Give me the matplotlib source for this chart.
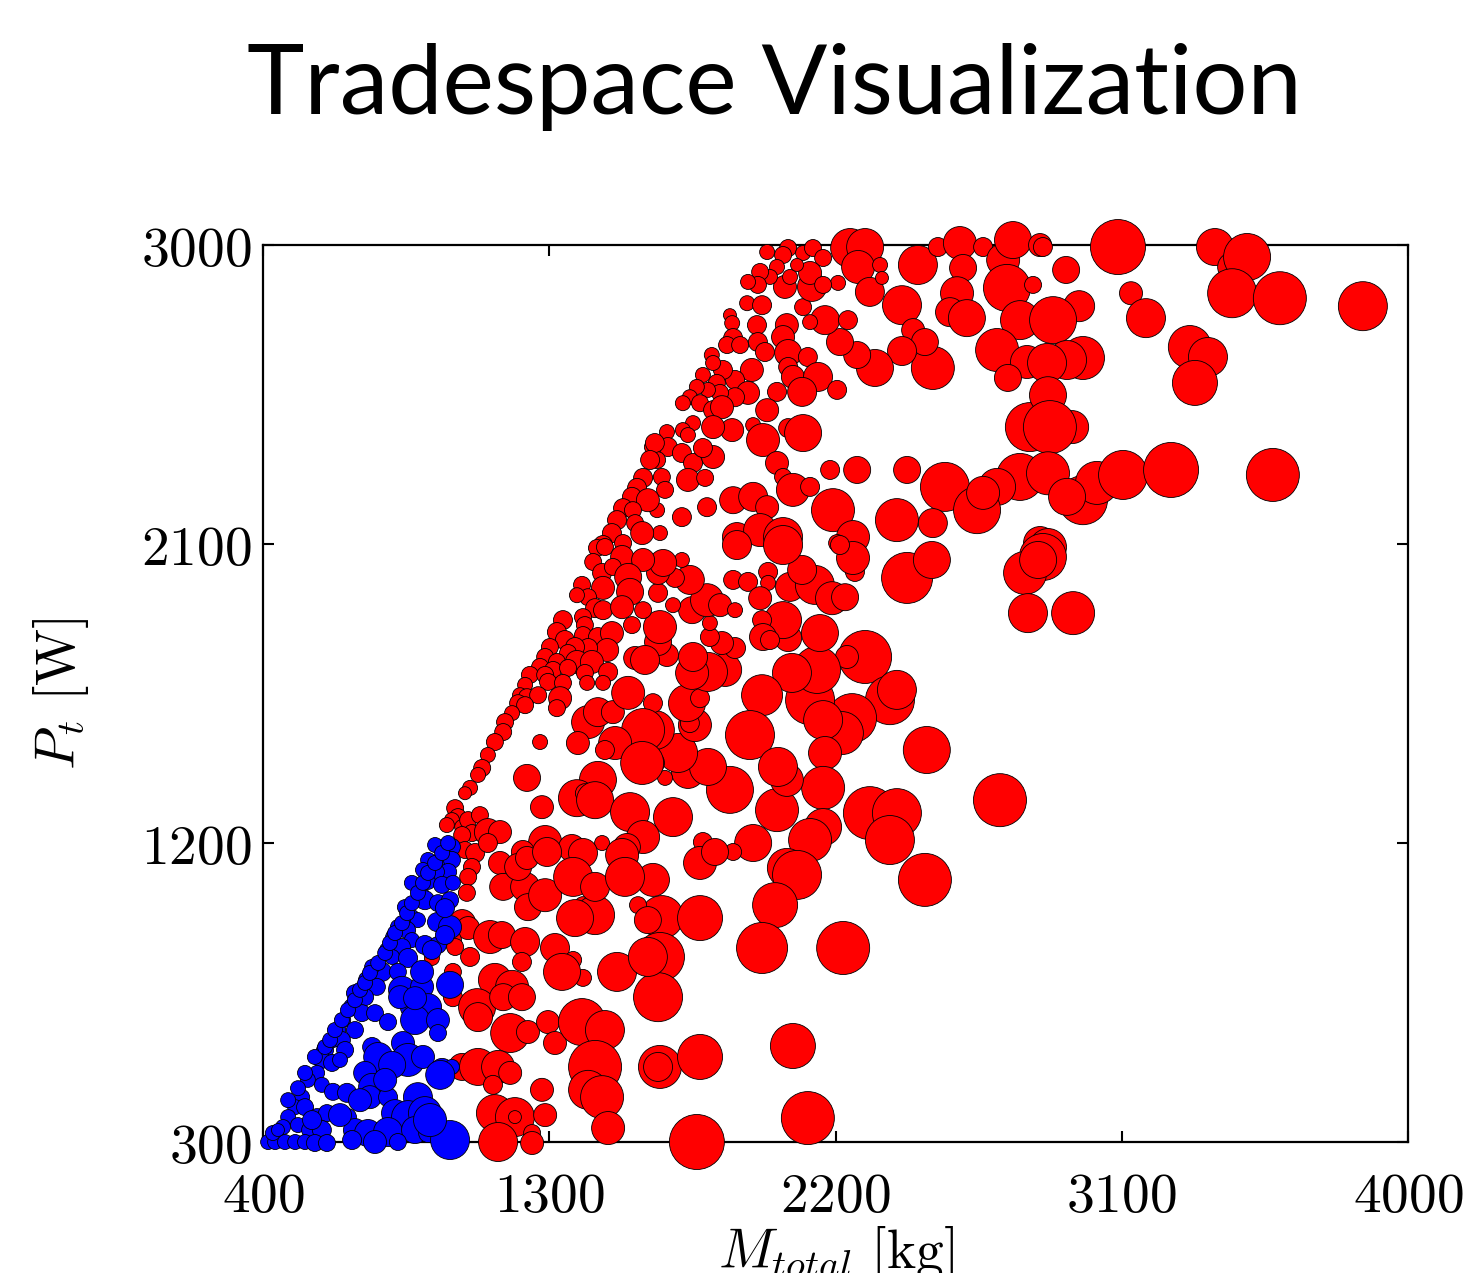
import numpy as np
import matplotlib
matplotlib.use("Agg")
import matplotlib.pyplot as plt

plt.rcParams['mathtext.fontset'] = 'cm'

# designs: (total mass [kg], power [W], cost metric -> bubble size)
red_designs = [
    (1985, 2979, 6), (2051, 2991, 7), (2035, 2970, 7), (2098, 2976, 6), (2129, 2991, 7),
    (2161, 2961, 7), (2246, 2991, 18), (2293, 2994, 17), (2271, 2934, 15), (2308, 2859, 13),
    (2340, 2940, 6), (2346, 2901, 5), (2208, 2886, 6), (2459, 2940, 18), (2522, 2994, 8),
    (2591, 3006, 15), (2601, 2931, 12), (2664, 2994, 8), (2727, 2955, 15), (2739, 2871, 22),
    (2758, 3015, 17), (2821, 2880, 7), (2843, 3000, 10), (2409, 2819, 18), (2582, 2855, 15),
    (2560, 2798, 13), (2613, 2780, 17), (2780, 2774, 18), (2708, 2684, 20), (2802, 2648, 15),
    (2742, 2600, 12), (2811, 2452, 23), (2780, 2302, 22), (2708, 2272, 17), (2544, 2272, 23),
    (2645, 2202, 22), (2843, 2103, 15), (2506, 2630, 20), (2444, 2744, 10), (2481, 2708, 12),
    (2409, 2681, 13), (2324, 2630, 17), (2268, 2669, 12), (2214, 2708, 12), (2167, 2774, 13),
    (2239, 2774, 8), (2120, 2768, 6), (2098, 2813, 7), (2126, 2874, 13), (2120, 2916, 10),
    (2161, 2880, 7), (2041, 2874, 10), (2057, 2904, 6), (2079, 2940, 5), (2016, 2934, 6),
    (1994, 2904, 6), (1963, 2919, 7), (1956, 2880, 7), (1925, 2889, 6), (1922, 2825, 6),
    (1969, 2819, 8), (1868, 2789, 5), (1875, 2765, 6), (1953, 2759, 8), (2047, 2759, 10),
    (2035, 2723, 10), (1956, 2708, 8), (1878, 2720, 8), (1859, 2699, 7), (1900, 2699, 7),
    (1811, 2669, 6), (1978, 2678, 8), (2051, 2675, 12), (2113, 2663, 8), (2051, 2633, 8),
    (2066, 2603, 10), (2145, 2603, 13), (2095, 2558, 13), (2205, 2564, 8), (2016, 2558, 8),
    (1937, 2624, 10), (1884, 2594, 8), (1846, 2624, 8), (1815, 2645, 6), (1783, 2609, 6),
    (1827, 2585, 7), (1925, 2555, 10), (1884, 2542, 8), (1837, 2555, 7), (1799, 2564, 6),
    (1764, 2573, 6), (1742, 2542, 6), (1720, 2524, 6), (1774, 2524, 7), (1815, 2503, 8),
    (1843, 2512, 10), (1985, 2503, 10), (1941, 2458, 6), (1875, 2443, 10), (1815, 2452, 10),
    (1752, 2464, 6), (1720, 2443, 6), (1670, 2437, 6), (1736, 2428, 6), (1972, 2413, 15),
    (2051, 2449, 8), (2098, 2434, 17), (2016, 2344, 10), (2035, 2302, 7), (2066, 2263, 15),
    (2120, 2272, 8), (2183, 2323, 8), (2268, 2323, 12), (2425, 2323, 12), (1673, 2392, 8),
    (1626, 2392, 7), (1639, 2353, 7), (1717, 2374, 8), (1752, 2344, 8), (1815, 2362, 10),
    (1783, 2389, 8), (1736, 2293, 10), (1654, 2302, 7), (1664, 2263, 7), (1790, 2299, 7),
    (1639, 2202, 6), (1717, 2181, 8), (1648, 2133, 6), (1796, 2211, 8), (1878, 2232, 12),
    (1941, 2242, 13), (1985, 2211, 10), (1890, 2121, 13), (1963, 2142, 15), (2035, 2121, 18),
    (2192, 2202, 20), (2255, 2121, 15), (2393, 2172, 20), (2506, 2163, 13), (2205, 2103, 7),
    (2664, 2254, 15),
    (2852, 2994, 8), (3088, 2994, 26), (2925, 2925, 12), (3129, 2855, 10), (3176, 2780, 18),
    (3393, 2994, 17), (3447, 2934, 13), (3494, 2964, 22), (3447, 2855, 23), (3597, 2840, 25),
    (3858, 2816, 23), (2966, 2816, 14), (2884, 2774, 22), (3314, 2693, 20), (3371, 2663, 18),
    (3330, 2585, 21), (2978, 2660, 20), (2928, 2654, 18), (2865, 2645, 18), (2868, 2548, 17),
    (2944, 2452, 15), (2874, 2452, 25), (2868, 2313, 20), (2978, 2232, 23), (3022, 2284, 20),
    (2928, 2242, 17), (3104, 2308, 23), (3255, 2323, 26), (3575, 2308, 25), (2868, 2091, 17),
    (2852, 2061, 22), (2796, 2013, 20), (2837, 2052, 17), (2805, 1892, 18), (2947, 1892, 20),
    (2425, 1998, 24), (2503, 2052, 17), (2293, 1760, 25), (2236, 1760, 10), (2371, 1630, 23),
    (2393, 1661, 18), (2252, 1576, 23), (2220, 1531, 20), (2120, 1630, 23), (2142, 1721, 22),
    (2063, 1712, 18), (2151, 1832, 17), (2051, 1817, 12), (2035, 1871, 17), (1969, 1871, 8),
    (1972, 1820, 12), (1994, 1811, 8), (1969, 1645, 19), (1931, 1525, 23), (2161, 1570, 18),
    (2167, 1471, 15), (2161, 1366, 20), (2161, 1248, 17), (2120, 1209, 20), (2016, 1299, 20),
    (2047, 1390, 15), (2019, 1429, 18), (1868, 1360, 22), (1941, 1200, 17), (1878, 1173, 7),
    (1783, 1203, 8), (1689, 1278, 18), (1736, 1414, 15), (1799, 1429, 17), (1705, 1471, 18),
    (1664, 1396, 6), (1626, 1441, 10), (1758, 1555, 15), (1742, 1561, 8), (1632, 1540, 18),
    (1733, 1621, 17), (1774, 1636, 8), (1626, 1621, 8), (1853, 1721, 15), (1799, 1715, 18),
    (1749, 1712, 15), (1752, 1760, 13), (1884, 1787, 9), (1843, 1802, 10), (1805, 1820, 8),
    (1805, 1862, 6), (1670, 1766, 10), (1642, 1805, 12), (1648, 1850, 15), (1749, 1901, 12),
    (1796, 1931, 15), (1837, 1916, 10), (1884, 1901, 6), (1689, 1916, 6), (1642, 1953, 8),
    (1742, 1992, 13), (1695, 1998, 8), (1717, 2052, 6), (1642, 2013, 10), (1658, 2043, 12),
    (1878, 1992, 8), (1925, 1986, 8), (1988, 2016, 8), (1988, 1983, 6), (1963, 1937, 10),
    (2057, 1971, 13), (2135, 1977, 18), (2189, 1937, 15), (2230, 1940, 12), (2261, 2016, 8),
    (2255, 2058, 15), (2214, 2097, 8), (2095, 2022, 13), (2035, 2097, 18), (1890, 2097, 13),
    (2487, 1480, 22), (2717, 1329, 25), (2308, 1290, 25), (2393, 1290, 23), (2371, 1209, 23),
    (1774, 1140, 15), (1821, 1173, 12), (2047, 1125, 18), (2079, 1104, 23), (2010, 1013, 21),
    (2481, 1089, 25), (1654, 977, 20), (1774, 974, 21), (1648, 857, 23), (1642, 736, 23),
    (1969, 884, 24), (2224, 884, 25), (1648, 526, 20), (1774, 556, 21), (2066, 589, 21),
    (2113, 372, 25), (1764, 300, 26), (1626, 1089, 15),
    (1632, 2404, 8), (1617, 2353, 8), (1595, 2299, 8), (1576, 2269, 8), (1560, 2242, 8),
    (1610, 2232, 10), (1532, 2208, 8), (1563, 2202, 7), (1513, 2172, 8), (1570, 2163, 7),
    (1592, 2133, 10), (1497, 2133, 8), (1532, 2103, 7), (1469, 2097, 8), (1450, 2088, 7),
    (1475, 2091, 7), (1529, 2061, 10), (1595, 2052, 10), (1438, 2046, 7), (1466, 2013, 8),
    (1500, 2031, 7), (1548, 2001, 12), (1554, 1956, 12), (1403, 1977, 7), (1469, 1968, 10),
    (1422, 1940, 7), (1387, 1946, 6), (1444, 1907, 8), (1469, 1901, 8), (1529, 1910, 10),
    (1595, 1901, 7), (1560, 1856, 7), (1343, 1871, 8), (1406, 1880, 7), (1412, 1856, 7),
    (1324, 1835, 8), (1349, 1811, 8), (1406, 1826, 7), (1453, 1820, 8), (1497, 1832, 10),
    (1482, 1781, 10), (1422, 1787, 8), (1381, 1790, 8), (1359, 1772, 7), (1302, 1790, 7),
    (1287, 1760, 7), (1324, 1745, 7), (1387, 1745, 10), (1434, 1745, 10), (1570, 1757, 10),
    (1610, 1742, 8), (1271, 1730, 7), (1312, 1721, 7), (1359, 1727, 7), (1412, 1712, 7),
    (1485, 1715, 8), (1239, 1706, 7), (1287, 1706, 7), (1296, 1685, 7), (1343, 1682, 7),
    (1419, 1682, 6), (1469, 1682, 6), (1224, 1676, 6), (1208, 1645, 6), (1230, 1639, 7),
    (1265, 1645, 7), (1202, 1621, 7), (1224, 1615, 7), (1334, 1636, 10), (1324, 1606, 7),
    (1183, 1591, 6), (1161, 1564, 7), (1155, 1534, 7), (1129, 1504, 7), (1107, 1465, 6),
    (1089, 1426, 7), (1076, 1405, 6), (1051, 1366, 6), (1035, 1350, 5), (1271, 1504, 6),
    (1230, 1396, 12), (1434, 1396, 8), (1453, 1390, 17), (1387, 1335, 17), (1412, 1350, 8),
    (1444, 1329, 17), (1554, 1293, 18), (1277, 1308, 10), (1422, 1564, 15), (1453, 1594, 13),
    (1500, 1594, 10), (1548, 1652, 15), (1595, 1540, 20), (1507, 1501, 15), (1475, 1480, 8),
    (1390, 1501, 10), (1592, 1441, 20), (1601, 1751, 13),
    (1004, 1305, 7), (1013, 1278, 7), (994, 1269, 6), (1026, 1248, 6), (978, 1254, 6),
    (1045, 1269, 7), (1082, 1284, 7), (1057, 1230, 7), (1107, 1233, 12), (1145, 1233, 10),
    (1026, 1224, 7), (1287, 1203, 15), (1217, 1173, 10), (1371, 1185, 12), (1466, 1200, 6),
    (1406, 1170, 13), (1595, 1218, 15), (1544, 1188, 12), (1529, 1164, 15),
    (1035, 1179, 7), (1067, 1170, 8), (1107, 1200, 8), (1145, 1140, 10), (1057, 1128, 7),
    (1045, 1098, 7), (1041, 1050, 7), (1155, 1068, 12), (1224, 1068, 13), (1202, 1128, 12),
    (1230, 1155, 10), (1293, 1173, 13), (1233, 1007, 12), (1287, 1043, 15), (1375, 1098, 18),
    (1406, 1013, 7), (1444, 983, 18), (1381, 974, 17), (1444, 1068, 13), (1538, 1098, 18),
    (1579, 1013, 7), (1610, 968, 12), (1026, 959, 12), (1045, 944, 10), (994, 908, 8),
    (1004, 887, 7), (931, 854, 6), (1051, 857, 8), (1114, 917, 15), (1151, 923, 12),
    (1224, 902, 13), (1214, 842, 8), (1318, 884, 13), (1375, 848, 7), (1406, 794, 7),
    (1340, 812, 17), (1513, 812, 18), (1610, 857, 18), (997, 812, 7), (997, 736, 8),
    (1004, 779, 5), (1129, 788, 15), (1183, 767, 15), (1073, 706, 17), (1155, 736, 12),
    (1214, 736, 12), (1076, 676, 13), (1177, 628, 18), (1233, 631, 10), (1296, 661, 10),
    (1318, 598, 10), (1403, 661, 22), (1475, 637, 18), (1026, 526, 12), (1076, 526, 17),
    (1139, 526, 15), (1177, 508, 10), (1123, 472, 8), (1444, 526, 25), (1422, 457, 18),
    (1466, 435, 20), (1642, 526, 13), (1129, 387, 17), (1192, 375, 18), (1192, 375, 5),
    (1287, 381, 10), (1277, 457, 10), (1246, 327, 7), (1246, 297, 10), (1139, 300, 18),
    (1485, 342, 15),
]

blue_designs = [
    (994, 1188, 7), (966, 1188, 6), (941, 1194, 6), (919, 1149, 6), (957, 1149, 6),
    (994, 1149, 7), (982, 1113, 7), (947, 1113, 6), (903, 1119, 6), (919, 1083, 6),
    (963, 1074, 7), (997, 1080, 6), (868, 1080, 6), (900, 1043, 6), (909, 1028, 8),
    (950, 1019, 7), (988, 1028, 7), (846, 1007, 6), (868, 977, 6), (887, 968, 6),
    (947, 962, 8), (988, 947, 10), (824, 947, 6), (853, 938, 7), (809, 917, 6),
    (868, 908, 6), (909, 893, 8), (950, 893, 7), (837, 887, 7), (790, 878, 6),
    (806, 857, 6), (856, 854, 8), (774, 812, 8), (824, 812, 7), (743, 827, 6),
    (727, 788, 7), (758, 767, 7), (837, 758, 12), (900, 767, 10), (988, 773, 12),
    (689, 748, 7), (721, 736, 7), (680, 706, 7), (711, 688, 7), (752, 688, 7),
    (793, 661, 7), (868, 706, 10), (919, 706, 12), (878, 667, 13), (950, 667, 10),
    (950, 628, 7), (652, 667, 6), (636, 637, 6), (689, 637, 7), (620, 607, 6),
    (648, 607, 7), (595, 577, 7), (658, 577, 7), (743, 586, 8), (762, 556, 13),
    (840, 598, 10), (856, 547, 15), (903, 556, 10), (963, 517, 10), (994, 526, 6),
    (585, 547, 7), (617, 538, 7), (642, 547, 6), (570, 508, 6), (541, 487, 6),
    (585, 472, 6), (620, 451, 7), (664, 448, 8), (721, 508, 10), (743, 466, 12),
    (736, 435, 10), (793, 435, 8), (887, 435, 13), (815, 387, 12), (856, 375, 15),
    (909, 387, 15), (523, 435, 6), (501, 405, 6), (532, 405, 7), (570, 375, 7),
    (601, 387, 7), (667, 375, 7), (479, 375, 6), (463, 345, 6), (510, 351, 6),
    (548, 336, 7), (585, 336, 8), (689, 336, 10), (730, 327, 12), (793, 330, 13),
    (878, 336, 12), (919, 327, 8), (988, 306, 18), (416, 300, 6), (438, 300, 6),
    (469, 300, 6), (501, 300, 6), (532, 300, 6), (563, 297, 7), (601, 297, 7),
    (680, 306, 8), (752, 300, 10), (824, 300, 7), (431, 327, 6), (447, 336, 5),
    (479, 426, 6), (510, 462, 6), (532, 508, 6), (563, 556, 6), (595, 586, 6),
    (611, 607, 6), (626, 637, 6), (648, 667, 6), (667, 697, 6), (689, 727, 6),
    (705, 758, 6), (721, 779, 6), (736, 809, 6), (762, 839, 6), (784, 869, 6),
    (799, 899, 6), (815, 929, 6), (837, 959, 6), (853, 989, 6), (868, 1019, 6),
    (887, 1050, 6), (903, 1080, 6), (919, 1110, 6), (941, 1140, 6), (963, 1170, 6),
    (982, 1200, 6),
    (925, 366, 15), (957, 502, 13), (806, 532, 12), (784, 487, 10), (705, 426, 10),
    (642, 381, 10), (554, 366, 8), (831, 736, 10), (900, 812, 10), (931, 878, 8),
    (972, 923, 8), (972, 1004, 8), (878, 733, 10),
]

x_ticks = [400, 1300, 2200, 3100, 4000]
y_ticks = [300, 1200, 2100, 3000]

red = np.array(red_designs, dtype=float)
blue = np.array(blue_designs, dtype=float)

fig = plt.figure(figsize=(14.67, 12.73), dpi=100)
ax = fig.add_axes([0.1793, 0.1029, 0.7805, 0.7046])

for pts, col in [(red, '#ff0000'), (blue, '#0000ff')]:
    radius = pts[:, 2] + 1.5
    ax.scatter(pts[:, 0], pts[:, 1], s=(1.44 * radius) ** 2, c=col,
               edgecolors='black', linewidths=0.6, clip_on=False, zorder=3)

ax.set_xlim(400, 4000)
ax.set_ylim(300, 3000)
ax.set_xticks(x_ticks)
ax.set_yticks(y_ticks)
ax.set_xticklabels(['$%d$' % v for v in x_ticks])
ax.set_yticklabels(['$%d$' % v for v in y_ticks])
ax.tick_params(direction='in', length=8, width=1.5, top=True, right=True,
               labelsize=40)
ax.tick_params(axis='x', pad=20)
ax.tick_params(axis='y', pad=8)
for sp in ax.spines.values():
    sp.set_linewidth(1.6)

ax.set_xlabel(r'$M_{total}\ [\mathrm{kg}]$', fontsize=40, labelpad=0)
ax.set_ylabel(r'$P_t\ [\mathrm{W}]$', fontsize=40, labelpad=36)

fig.text(0.5276, 0.932, 'Tradespace Visualization', fontsize=70,
         family='Lato', ha='center', va='center')

fig.savefig('out.png', dpi=100)
